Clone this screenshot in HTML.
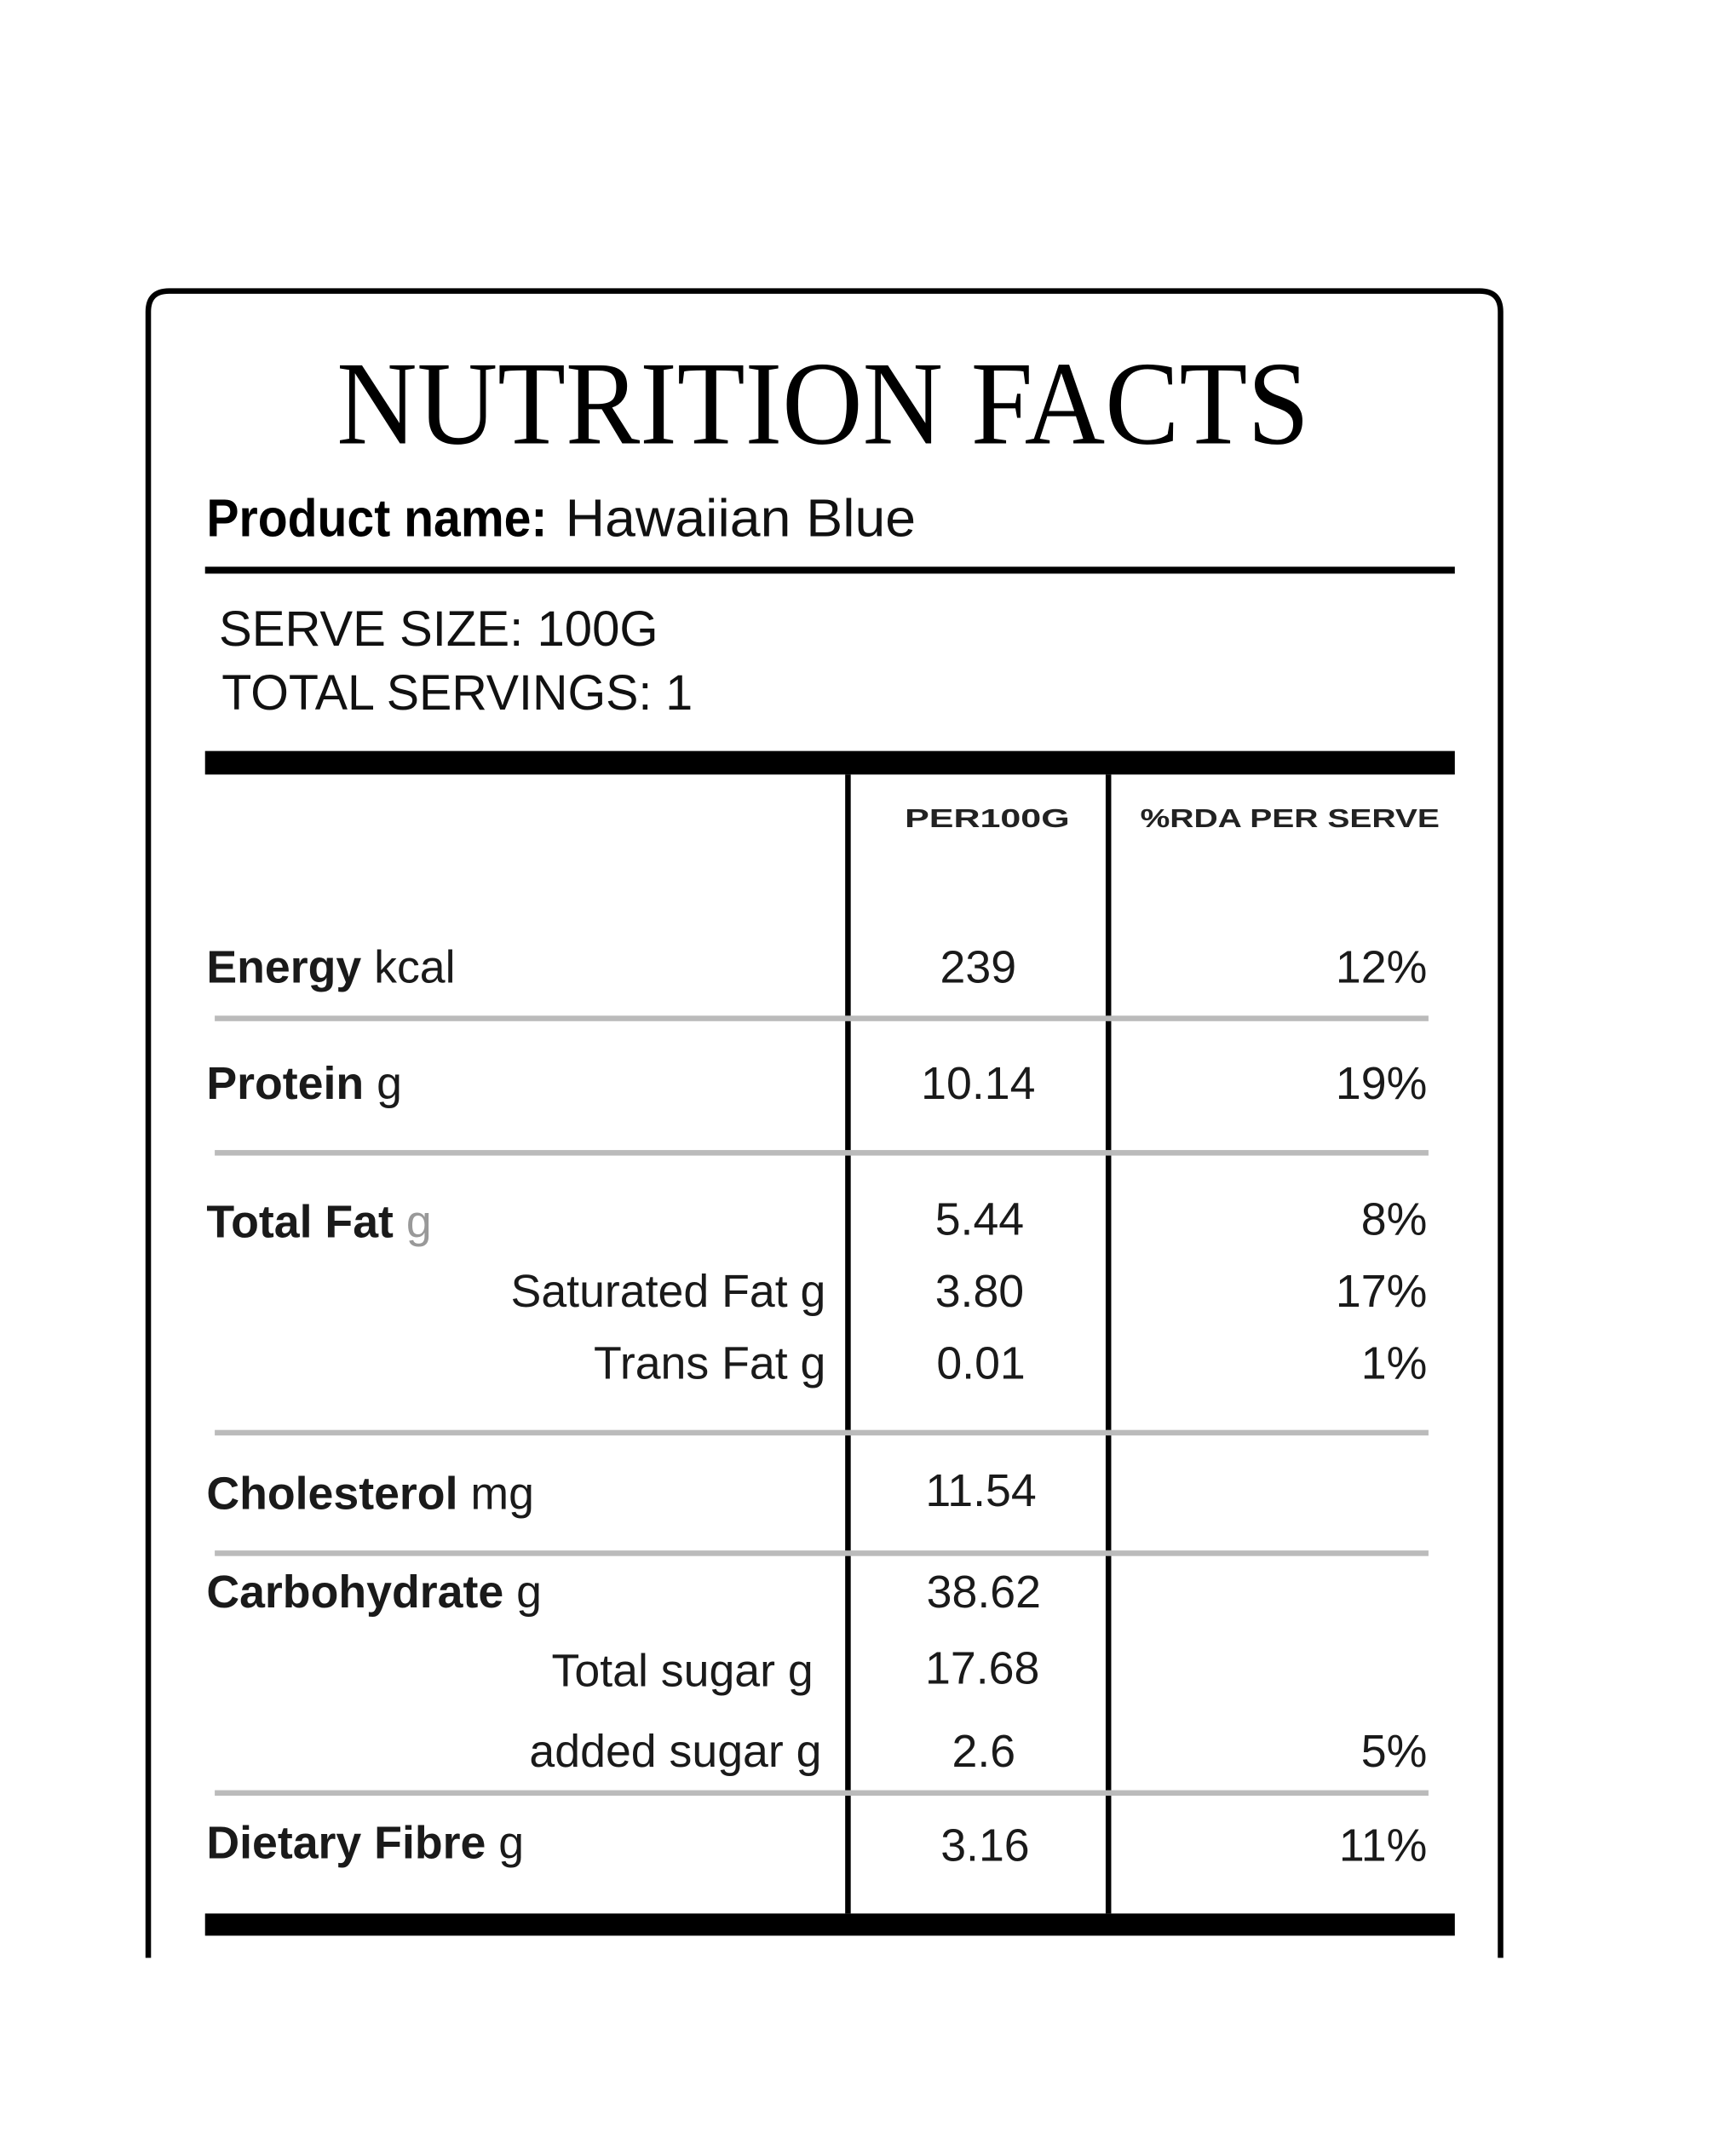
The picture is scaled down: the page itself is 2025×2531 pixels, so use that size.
<!DOCTYPE html>
<html><head><meta charset="utf-8"><style>html,body{margin:0;padding:0;background:#fff}svg{display:block}</style></head>
<body>
<svg width="2025" height="2531" viewBox="0 0 1245 1556" preserveAspectRatio="none" xmlns="http://www.w3.org/2000/svg">
<rect width="1245" height="1556" fill="#fff"/>
<path d="M107,1413 V225 Q107,210 122,210 H1068 Q1083,210 1083,225 V1413" fill="none" stroke="#000" stroke-width="4"/>
<text x="243" y="320" font-family="Liberation Serif, serif" font-size="86" textLength="702" lengthAdjust="spacingAndGlyphs" fill="#000">NUTRITION FACTS</text>
<text x="149" y="387" font-family="Liberation Sans, sans-serif" font-size="38" font-weight="bold" textLength="246" lengthAdjust="spacingAndGlyphs" fill="#000">Product name:</text>
<text x="408" y="387" font-family="Liberation Sans, sans-serif" font-size="38" textLength="253" lengthAdjust="spacingAndGlyphs" fill="#111">Hawaiian Blue</text>
<rect x="148" y="409" width="902" height="5" fill="#000"/>
<text x="158" y="466" font-family="Liberation Sans, sans-serif" font-size="36" textLength="317" lengthAdjust="spacingAndGlyphs" fill="#111">SERVE SIZE: 100G</text>
<text x="160" y="512" font-family="Liberation Sans, sans-serif" font-size="36" textLength="340" lengthAdjust="spacingAndGlyphs" fill="#111">TOTAL SERVINGS: 1</text>
<rect x="148" y="542" width="902" height="17" fill="#000"/>
<rect x="148" y="1381" width="902" height="16" fill="#000"/>
<rect x="610" y="559" width="4" height="822" fill="#000"/>
<rect x="798" y="559" width="4" height="822" fill="#000"/>
<g fill="#222" font-family="Liberation Sans, sans-serif" font-weight="bold" font-size="19">
<text x="653" y="597" textLength="119" lengthAdjust="spacingAndGlyphs">PER100G</text>
<text x="823" y="597" textLength="216" lengthAdjust="spacingAndGlyphs">%RDA PER SERVE</text>
</g>
<g fill="#bbb">
<rect x="155" y="733" width="876" height="4"/>
<rect x="155" y="830" width="876" height="4"/>
<rect x="155" y="1032" width="876" height="4"/>
<rect x="155" y="1119" width="876" height="4"/>
<rect x="155" y="1292" width="876" height="4"/>
</g>
<g font-family="Liberation Sans, sans-serif" font-size="33" fill="#1a1a1a">
<text x="149" y="709"><tspan font-weight="bold">Energy</tspan> kcal</text>
<text x="149" y="793"><tspan font-weight="bold">Protein</tspan> g</text>
<text x="149" y="893"><tspan font-weight="bold">Total Fat</tspan> <tspan fill="#999">g</tspan></text>
<text x="596" y="943" text-anchor="end">Saturated Fat g</text>
<text x="596" y="995" text-anchor="end">Trans Fat g</text>
<text x="149" y="1089"><tspan font-weight="bold">Cholesterol</tspan> mg</text>
<text x="149" y="1160"><tspan font-weight="bold">Carbohydrate</tspan> g</text>
<text x="587" y="1217" text-anchor="end">Total sugar g</text>
<text x="593" y="1275" text-anchor="end">added sugar g</text>
<text x="149" y="1341"><tspan font-weight="bold">Dietary Fibre</tspan> g</text>
<g text-anchor="middle">
<text x="706" y="709">239</text>
<text x="706" y="793">10.14</text>
<text x="707" y="891">5.44</text>
<text x="707" y="943">3.80</text>
<text x="708" y="995">0.01</text>
<text x="708" y="1087">11.54</text>
<text x="710" y="1160">38.62</text>
<text x="709" y="1215">17.68</text>
<text x="710" y="1275">2.6</text>
<text x="711" y="1343">3.16</text>
</g>
<g text-anchor="end">
<text x="1030" y="709">12%</text>
<text x="1030" y="793">19%</text>
<text x="1030" y="891">8%</text>
<text x="1030" y="943">17%</text>
<text x="1030" y="995">1%</text>
<text x="1030" y="1275">5%</text>
<text x="1030" y="1343">11%</text>
</g>
</g>
</svg>
</body></html>
